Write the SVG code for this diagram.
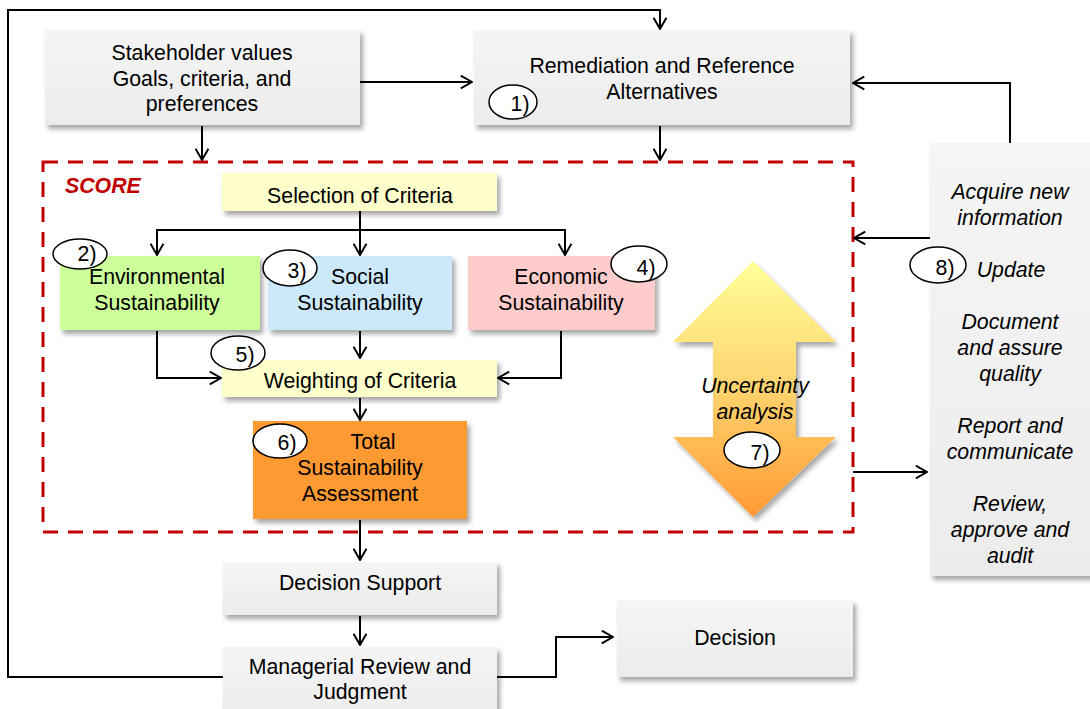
<svg xmlns="http://www.w3.org/2000/svg" width="1090" height="709" viewBox="0 0 1090 709">
<defs>
<style>
text{font-family:"Liberation Sans",Arial,sans-serif;font-size:21.3px;fill:#000;text-anchor:middle}
.it{font-style:italic}
.box{stroke:none}
.conn{fill:none;stroke:#000;stroke-width:2}
.ell{fill:#fff;stroke:#000;stroke-width:1.5}
</style>
<filter id="sh" x="-10%" y="-10%" width="125%" height="130%">
<feDropShadow dx="3" dy="4" stdDeviation="2.5" flood-color="#000" flood-opacity="0.35"/>
</filter>
<linearGradient id="ug" x1="0" y1="0" x2="0" y2="1">
<stop offset="0" stop-color="#ffff99"/>
<stop offset="0.5" stop-color="#ffd36e"/>
<stop offset="1" stop-color="#ff9933"/>
</linearGradient>
<linearGradient id="gg" x1="0" y1="0" x2="0" y2="1">
<stop offset="0" stop-color="#f5f5f5"/>
<stop offset="1" stop-color="#ececec"/>
</linearGradient>
<marker id="ar" viewBox="0 0 12 14" refX="11.5" refY="7" markerWidth="13" markerHeight="15" markerUnits="userSpaceOnUse" orient="auto">
<path d="M1,1 L11.5,7 L1,13" fill="none" stroke="#000" stroke-width="1.8"/>
</marker>
</defs>
<rect width="1090" height="709" fill="#fff"/>

<g id="score-frame">
<rect x="43" y="162" width="810" height="370" fill="none" stroke="#c00000" stroke-width="3" stroke-dasharray="15 10"/>
<text x="65" y="193" style="font-weight:bold;font-style:italic;fill:#c00000;text-anchor:start">SCORE</text>
</g>

<g id="connectors">
<path class="conn" d="M223,677 H8 V10 H660 V29" marker-end="url(#ar)"/>
<path class="conn" d="M360,82 H472" marker-end="url(#ar)"/>
<path class="conn" d="M202,126 V160" marker-end="url(#ar)"/>
<path class="conn" d="M660,126 V160" marker-end="url(#ar)"/>
<path class="conn" d="M1010,143 V83 H853" marker-end="url(#ar)"/>
<path class="conn" d="M930,238 H854" marker-end="url(#ar)"/>
<path class="conn" d="M853,472 H927" marker-end="url(#ar)"/>
<path class="conn" d="M360,211 V255"  marker-end="url(#ar)"/>
<path class="conn" d="M157,255 V230 H565 V255" marker-end="url(#ar)"/>
<path class="conn" d="M157,230 V255" marker-end="url(#ar)"/>
<path class="conn" d="M157,331 V378 H221" marker-end="url(#ar)"/>
<path class="conn" d="M360,331 V358" marker-end="url(#ar)"/>
<path class="conn" d="M561,331 V378 H498" marker-end="url(#ar)"/>
<path class="conn" d="M360,398 V420" marker-end="url(#ar)"/>
<path class="conn" d="M360,520 V560" marker-end="url(#ar)"/>
<path class="conn" d="M360,616 V645" marker-end="url(#ar)"/>
<path class="conn" d="M497,677 H556 V637 H613" marker-end="url(#ar)"/>
</g>

<g id="stakeholder">
<rect class="box" x="45" y="30" width="315" height="95" fill="url(#gg)" filter="url(#sh)"/>
<text x="202" y="60">Stakeholder values</text>
<text x="202" y="86">Goals, criteria, and</text>
<text x="202" y="111">preferences</text>
</g>

<g id="remediation">
<rect class="box" x="474" y="30" width="376" height="95" fill="url(#gg)" filter="url(#sh)"/>
<text x="662" y="73">Remediation and Reference</text>
<text x="662" y="99">Alternatives</text>
<ellipse class="ell" cx="513" cy="102" rx="24" ry="17"/>
<text x="520" y="111">1)</text>
</g>

<g id="selection">
<rect class="box" x="222" y="173" width="275" height="38" fill="#ffffcc" filter="url(#sh)"/>
<text x="360" y="203">Selection of Criteria</text>
</g>

<g id="environmental">
<rect class="box" x="60" y="256" width="200" height="74" fill="#ccff99" filter="url(#sh)"/>
<text x="157" y="284">Environmental</text>
<text x="157" y="310">Sustainability</text>
<ellipse class="ell" cx="80" cy="254" rx="27" ry="15"/>
<text x="87" y="261">2)</text>
</g>

<g id="social">
<rect class="box" x="268" y="256" width="184" height="74" fill="#cce9fc" filter="url(#sh)"/>
<text x="360" y="284">Social</text>
<text x="360" y="310">Sustainability</text>
<ellipse class="ell" cx="290" cy="268" rx="27" ry="18"/>
<text x="297" y="278">3)</text>
</g>

<g id="economic">
<rect class="box" x="468" y="256" width="187" height="74" fill="#ffcccc" filter="url(#sh)"/>
<text x="561" y="284">Economic</text>
<text x="561" y="310">Sustainability</text>
<ellipse class="ell" cx="639" cy="264" rx="28" ry="18"/>
<text x="646" y="275">4)</text>
</g>

<g id="weighting">
<rect class="box" x="222" y="360" width="275" height="37" fill="#ffffcc" filter="url(#sh)"/>
<text x="360" y="388">Weighting of Criteria</text>
<ellipse class="ell" cx="238" cy="353" rx="27" ry="17"/>
<text x="245" y="362">5)</text>
</g>

<g id="total">
<rect class="box" x="253" y="421" width="214" height="98" fill="#ff9933" filter="url(#sh)"/>
<text x="373" y="449">Total</text>
<text x="360" y="475">Sustainability</text>
<text x="360" y="501">Assessment</text>
<ellipse class="ell" cx="280" cy="441" rx="27" ry="17"/>
<text x="287" y="450">6)</text>
</g>

<g id="uncertainty">
<path d="M753,261 L836,342 H796 V437 H836 L753,517 L673,437 H713 V342 H673 Z" fill="url(#ug)" filter="url(#sh)"/>
<text class="it" x="755" y="393">Uncertainty</text>
<text class="it" x="755" y="419">analysis</text>
<ellipse class="ell" cx="752" cy="450" rx="28" ry="18"/>
<text x="760" y="460">7)</text>
</g>

<g id="actions">
<rect class="box" x="930" y="143" width="165" height="433" fill="url(#gg)" filter="url(#sh)"/>
<text class="it" x="1010" y="199">Acquire new</text>
<text class="it" x="1010" y="225">information</text>
<text class="it" x="1011" y="277">Update</text>
<text class="it" x="1010" y="329">Document</text>
<text class="it" x="1010" y="355">and assure</text>
<text class="it" x="1010" y="381">quality</text>
<text class="it" x="1010" y="433">Report and</text>
<text class="it" x="1010" y="459">communicate</text>
<text class="it" x="1010" y="511">Review,</text>
<text class="it" x="1010" y="537">approve and</text>
<text class="it" x="1010" y="563">audit</text>
<ellipse class="ell" cx="938" cy="265" rx="28" ry="18"/>
<text x="945" y="275">8)</text>
</g>

<g id="decision-support">
<rect class="box" x="223" y="562" width="274" height="53" fill="url(#gg)" filter="url(#sh)"/>
<text x="360" y="590">Decision Support</text>
</g>

<g id="managerial">
<rect class="box" x="223" y="647" width="274" height="70" fill="url(#gg)" filter="url(#sh)"/>
<text x="360" y="674">Managerial Review and</text>
<text x="360" y="699">Judgment</text>
</g>

<g id="decision">
<rect class="box" x="617" y="600" width="236" height="77" fill="url(#gg)" filter="url(#sh)"/>
<text x="735" y="645">Decision</text>
</g>
</svg>
